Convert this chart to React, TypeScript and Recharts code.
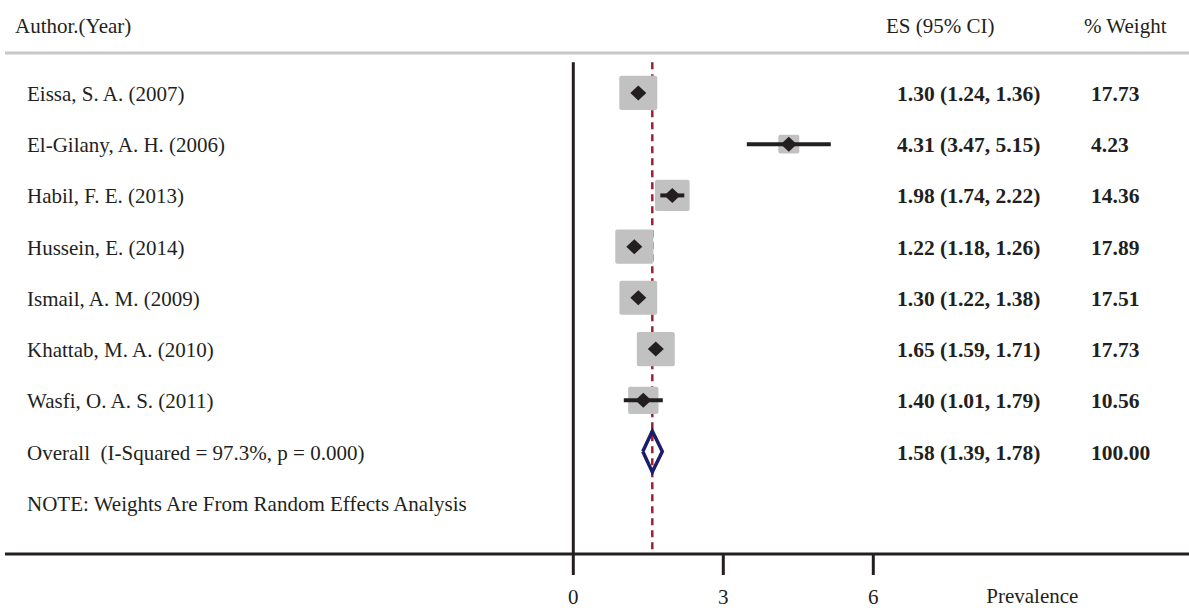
import React from "react";
import { ComposedChart, Scatter, XAxis, YAxis, ReferenceLine } from "recharts";

const authors = [
  "Eissa, S. A. (2007)",
  "El-Gilany, A. H. (2006)",
  "Habil, F. E. (2013)",
  "Hussein, E. (2014)",
  "Ismail, A. M. (2009)",
  "Khattab, M. A. (2010)",
  "Wasfi, O. A. S. (2011)",
];
const es = [1.3, 4.31, 1.98, 1.22, 1.3, 1.65, 1.4];
const ciLow = [1.24, 3.47, 1.74, 1.18, 1.22, 1.59, 1.01];
const ciHigh = [1.36, 5.15, 2.22, 1.26, 1.38, 1.71, 1.79];
const weights = [17.73, 4.23, 14.36, 17.89, 17.51, 17.73, 10.56];

const overallLabel = "Overall  (I-Squared = 97.3%, p = 0.000)";
const overallEs = 1.58;
const overallLow = 1.39;
const overallHigh = 1.78;
const overallWeight = "100.00";
const noteText = "NOTE: Weights Are From Random Effects Analysis";
const xTicks = [0, 3, 6];

const FONT = "'Liberation Serif', 'DejaVu Serif', serif";
const INK = "#231f20";

const fmt = (v: number) => v.toFixed(2);

const studies = authors.map((a, i) => ({ x: es[i], y: i + 1, w: weights[i] }));

// one two-point segment per study for the confidence interval
const ciSegments = authors.map((a, i) => [
  { x: ciLow[i], y: i + 1 },
  { x: ciHigh[i], y: i + 1 },
]);

const labelRows = [
  ...authors.map((a, i) => ({
    x: es[i],
    y: i + 1,
    name: a,
    ci: `${fmt(es[i])} (${fmt(ciLow[i])}, ${fmt(ciHigh[i])})`,
    wt: fmt(weights[i]),
  })),
  {
    x: overallEs,
    y: 8,
    name: overallLabel,
    ci: `${fmt(overallEs)} (${fmt(overallLow)}, ${fmt(overallHigh)})`,
    wt: overallWeight,
  },
  { x: 0, y: 9, name: noteText, ci: "", wt: "" },
];

const overallDiamond = [
  { x: overallLow, y: 8 },
  { x: overallEs, y: 7.6 },
  { x: overallHigh, y: 8 },
  { x: overallEs, y: 8.4 },
  { x: overallLow, y: 8 },
];

const WeightBox = (props: any) => {
  const { cx, cy, payload } = props;
  const side = 4.7 + 7.9 * Math.sqrt(payload.w);
  const h = side * 0.9;
  return <rect x={cx - side / 2} y={cy - h / 2} width={side} height={h} rx={2} fill="#c1c1c1" />;
};

const Point = (props: any) => {
  const { cx, cy } = props;
  return (
    <path
      d={`M${cx - 8},${cy} L${cx},${cy - 7.5} L${cx + 8},${cy} L${cx},${cy + 7.5} Z`}
      fill={INK}
    />
  );
};

const RowText = (props: any) => {
  const { cy, payload } = props;
  const base = cy + 8;
  return (
    <g fontFamily={FONT} fill={INK}>
      <text x={27} y={base} fontSize={21} style={{ whiteSpace: "pre" }}>
        {payload.name}
      </text>
      <text x={897} y={base} fontSize={21.5} fontWeight="bold">
        {payload.ci}
      </text>
      <text x={1091} y={base} fontSize={21.5} fontWeight="bold">
        {payload.wt}
      </text>
    </g>
  );
};

const Header = (props: any) => {
  const { viewBox } = props;
  const y = viewBox.y - 20;
  return (
    <g fontFamily={FONT} fontSize={21} fill={INK}>
      <text x={15} y={y}>Author.(Year)</text>
      <text x={886} y={y}>ES (95% CI)</text>
      <text x={1084} y={y}>% Weight</text>
    </g>
  );
};

const XTick = (props: any) => {
  const { x, y, payload } = props;
  return (
    <g fontFamily={FONT} fontSize={21} fill={INK}>
      <text x={x} y={y + 27} textAnchor="middle">
        {payload.value}
      </text>
      {payload.value === 6 && (
        <text x={x + 113} y={y + 26}>
          Prevalence
        </text>
      )}
    </g>
  );
};

const Empty = () => <g />;

export default function App() {
  return (
    <div style={{ position: "absolute", left: 0, top: 0, background: "#fff" }}>
      <ComposedChart width={1189} height={608} margin={{ top: 53, right: 0, bottom: 0, left: 5 }}>
        <XAxis
          dataKey="x"
          type="number"
          domain={[-11.366, 12.314]}
          allowDataOverflow
          ticks={xTicks}
          interval={0}
          height={54}
          tickSize={21}
          axisLine={{ stroke: INK, strokeWidth: 3 }}
          tickLine={{ stroke: INK, strokeWidth: 3 }}
          tick={<XTick />}
        />
        <YAxis dataKey="y" type="number" domain={[0.22, 10.0]} allowDataOverflow reversed hide />
        <ReferenceLine y={0.22} stroke="#c8c8c8" strokeWidth={3} label={<Header />} />
        <ReferenceLine
          segment={[
            { x: 0, y: 0.4 },
            { x: 0, y: 10.0 },
          ]}
          stroke={INK}
          strokeWidth={3}
        />
        <Scatter data={studies} shape={<WeightBox />} isAnimationActive={false} />
        {ciSegments.map((seg, i) => (
          <Scatter
            key={`ci-${i}`}
            data={seg}
            shape={<Empty />}
            line={{ stroke: INK, strokeWidth: 4 }}
            lineType="joint"
            isAnimationActive={false}
          />
        ))}
        <Scatter data={studies} shape={<Point />} isAnimationActive={false} />
        <Scatter
          data={overallDiamond}
          shape={<Empty />}
          line={{ stroke: "#1c1c6b", strokeWidth: 3.5 }}
          lineType="joint"
          isAnimationActive={false}
        />
        <ReferenceLine
          segment={[
            { x: overallEs, y: 0.4 },
            { x: overallEs, y: 10.0 },
          ]}
          stroke="#9b2335"
          strokeWidth={2.5}
          strokeDasharray="7 5"
        />
        <Scatter data={labelRows} shape={<RowText />} isAnimationActive={false} />
      </ComposedChart>
    </div>
  );
}
